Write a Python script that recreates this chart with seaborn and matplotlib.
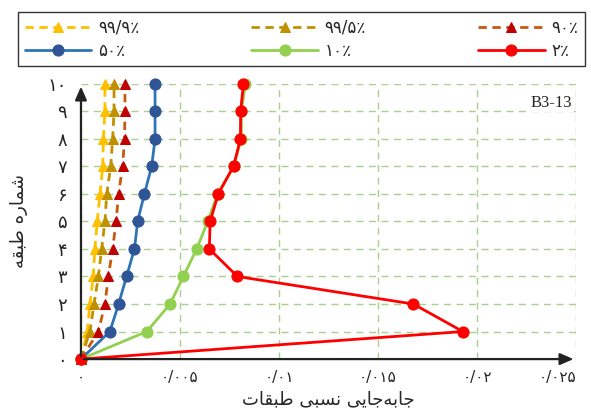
import numpy as np
import pandas as pd
import matplotlib
matplotlib.use('Agg')
import matplotlib.pyplot as plt
import seaborn as sns

stories = [0, 1, 2, 3, 4, 5, 6, 7, 8, 9, 10]
levels = ['99.9', '99.5', '90', '50', '10', '2']
drift_999 = [0, 0.00032, 0.00045, 0.00062, 0.0007, 0.00082, 0.00096, 0.0011, 0.00113, 0.00121, 0.00121]
drift_995 = [0, 0.00045, 0.00066, 0.00088, 0.00104, 0.00121, 0.0013, 0.0015, 0.0016, 0.00167, 0.00167]
drift_90 = [0, 0.00088, 0.00121, 0.00138, 0.0016, 0.00177, 0.0019, 0.0021, 0.0022, 0.00222, 0.00222]
drift_50 = [0, 0.00146, 0.0019, 0.0023, 0.0027, 0.00286, 0.0032, 0.00357, 0.00374, 0.00374, 0.00374]
drift_10 = [0, 0.00332, 0.0045, 0.00517, 0.00584, 0.0064, 0.0069, 0.0077, 0.0081, 0.0081, 0.0083]
drift_2 = [0, 0.01928, 0.01678, 0.0079, 0.00648, 0.00652, 0.00693, 0.0077, 0.00805, 0.00806, 0.0082]
x_ticks = [0, 0.005, 0.01, 0.015, 0.02, 0.025]
x_tick_labels = ['0', '0.005', '0.01', '0.015', '0.02', '0.025']

fa_digits = str.maketrans('0123456789.', '۰۱۲۳۴۵۶۷۸۹/')


def fa(s):
    return s.translate(fa_digits)


# crude arabic shaping (no reshaper available): isolated, final, initial, medial
FORMS = {
    'ا': ('\uFE8D', '\uFE8E', None, None),
    'ر': ('\uFEAD', '\uFEAE', None, None),
    'ه': ('\uFEE9', '\uFEEA', '\uFEEB', '\uFEEC'),
    'ب': ('\uFE8F', '\uFE90', '\uFE91', '\uFE92'),
    'ت': ('\uFE95', '\uFE96', '\uFE97', '\uFE98'),
    'ج': ('\uFE9D', '\uFE9E', '\uFE9F', '\uFEA0'),
    'س': ('\uFEB1', '\uFEB2', '\uFEB3', '\uFEB4'),
    'ش': ('\uFEB5', '\uFEB6', '\uFEB7', '\uFEB8'),
    'ط': ('\uFEC1', '\uFEC2', '\uFEC3', '\uFEC4'),
    'ق': ('\uFED5', '\uFED6', '\uFED7', '\uFED8'),
    'م': ('\uFEE1', '\uFEE2', '\uFEE3', '\uFEE4'),
    'ن': ('\uFEE5', '\uFEE6', '\uFEE7', '\uFEE8'),
    'ی': ('\uFEEF', '\uFEF0', '\uFEF3', '\uFEF4'),
}


def shape(text):
    out = []
    for i, c in enumerate(text):
        if c not in FORMS:
            if c != '\u200c':
                out.append(c)
            continue
        prev = text[i - 1] if i > 0 else ''
        nxt = text[i + 1] if i + 1 < len(text) else ''
        jp = prev in FORMS and FORMS[prev][2] is not None
        jn = nxt in FORMS and FORMS[c][2] is not None
        iso, fin, ini, med = FORMS[c]
        if jp and jn:
            out.append(med)
        elif jp:
            out.append(fin)
        elif jn:
            out.append(ini)
        else:
            out.append(iso)
    return ''.join(reversed(out))


rows = []
for lev, vals in zip(levels, [drift_999, drift_995, drift_90, drift_50, drift_10, drift_2]):
    for s, d in zip(stories, vals):
        rows.append({'level': lev, 'story': s, 'drift': d})
df = pd.DataFrame(rows)

sns.set_style('white')
plt.rcParams['font.family'] = ['DejaVu Sans']

fig = plt.figure(figsize=(5.91, 4.19), dpi=100)
ax = fig.add_axes([0.137, 0.143, 0.838, 0.657])

styles = {
    '99.9': dict(color='#FFC000', mfc='#FFC000', marker='^', ls=(0, (3, 2))),
    '99.5': dict(color='#BF9000', mfc='#BF9000', marker='^', ls=(0, (3, 2))),
    '90': dict(color='#C55A11', mfc='#C00000', marker='^', ls=(0, (3, 2))),
    '50': dict(color='#2E75B6', mfc='#2F5597', marker='o', ls='-'),
    '10': dict(color='#92D050', mfc='#92D050', marker='o', ls='-'),
    '2': dict(color='#FF0000', mfc='#FF0000', marker='o', ls='-'),
}

for lev in levels:
    st = styles[lev]
    sub = df[df['level'] == lev]
    sns.lineplot(data=sub, x='drift', y='story', sort=False, estimator=None, ax=ax,
                 color=st['color'], linestyle=st['ls'], lw=2, marker=st['marker'],
                 markersize=8 if st['marker'] == 'o' else 7,
                 markerfacecolor=st['mfc'], markeredgecolor=st['mfc'],
                 label=fa(lev + '٪'), clip_on=False, zorder=3)

ax.set_xlim(0, 0.025)
ax.set_ylim(0, 10)
ax.set_xticks(x_ticks)
ax.set_xticklabels([fa(t) for t in x_tick_labels], fontsize=11)
ax.get_xticklabels()[-1].set_horizontalalignment('right')
ax.set_yticks(stories)
ax.set_yticklabels([fa(str(s)) for s in stories], fontsize=13)
ax.tick_params(axis='y', length=0, pad=10)
ax.tick_params(axis='x', length=0, pad=8)
ax.grid(True, color='#A9D18E', ls=(0, (5, 4)), lw=1)
for sp in ax.spines.values():
    sp.set_visible(False)

ax.annotate('', xy=(1.0, 0), xytext=(0, 0), xycoords='axes fraction',
            arrowprops=dict(arrowstyle='-|>,head_length=0.8,head_width=0.35', color='#222222', lw=1.6))
ax.annotate('', xy=(0, 1.0), xytext=(0, 0), xycoords='axes fraction',
            arrowprops=dict(arrowstyle='-|>,head_length=0.8,head_width=0.35', color='#222222', lw=1.6))

ax.set_xlabel(shape('جابه\u200cجایی نسبی طبقات'), fontsize=13, labelpad=4)
ax.set_ylabel(shape('شماره طبقه'), fontsize=13, labelpad=14)

ax.text(0.0248, 9.3, 'B3-13', family='Liberation Serif', fontsize=12, ha='right', va='center',
        bbox=dict(facecolor='white', edgecolor='none', pad=1))

h, l = ax.get_legend_handles_labels()
order = [0, 3, 1, 4, 2, 5]
if ax.legend_:
    ax.legend_.remove()
leg = fig.legend([h[i] for i in order], [l[i] for i in order], ncol=3, loc='upper left',
                 bbox_to_anchor=(18 / 591, 1 - 70 / 419, 567 / 591, 58 / 419), mode='expand',
                 fontsize=12, frameon=True, fancybox=False, edgecolor='black', handlelength=4,
                 borderaxespad=0, labelspacing=0.3, handletextpad=0.4)
leg.get_frame().set_linewidth(1)

fig.savefig('out.png', dpi=100)
